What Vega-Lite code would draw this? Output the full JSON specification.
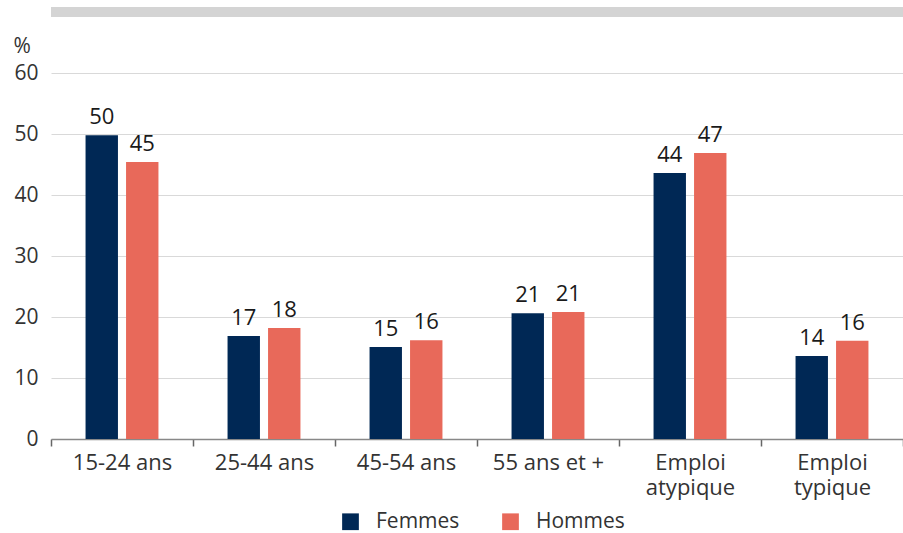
{
  "$schema": "https://vega.github.io/schema/vega-lite/v6.json",
  "width": 852,
  "height": 366,
  "autosize": {"type": "none"},
  "padding": {"left": 51, "top": 73, "right": 0, "bottom": 94},
  "background": "white",
  "config": {
    "font": "Open Sans",
    "view": {"stroke": null}
  },
  "datasets": {
    "barres": [
      {"groupe": "15-24 ans", "sexe": "Femmes", "valeur": 49.8},
      {"groupe": "15-24 ans", "sexe": "Hommes", "valeur": 45.4},
      {"groupe": "25-44 ans", "sexe": "Femmes", "valeur": 16.9},
      {"groupe": "25-44 ans", "sexe": "Hommes", "valeur": 18.2},
      {"groupe": "45-54 ans", "sexe": "Femmes", "valeur": 15.1},
      {"groupe": "45-54 ans", "sexe": "Hommes", "valeur": 16.2},
      {"groupe": "55 ans et +", "sexe": "Femmes", "valeur": 20.6},
      {"groupe": "55 ans et +", "sexe": "Hommes", "valeur": 20.8},
      {"groupe": "Emploi atypique", "sexe": "Femmes", "valeur": 43.6},
      {"groupe": "Emploi atypique", "sexe": "Hommes", "valeur": 46.9},
      {"groupe": "Emploi typique", "sexe": "Femmes", "valeur": 13.6},
      {"groupe": "Emploi typique", "sexe": "Hommes", "valeur": 16.1}
    ],
    "bandeau": [{"niveau": 70}]
  },
  "layer": [
    {
      "data": {"name": "barres"},
      "encoding": {
        "x": {
          "field": "groupe",
          "type": "nominal",
          "sort": null,
          "scale": {"paddingInner": 0, "paddingOuter": 0},
          "axis": {
            "title": null,
            "labelAngle": 0,
            "labelFontSize": 22,
            "labelColor": "#333333",
            "labelPadding": 6,
            "labelLineHeight": 25,
            "labelExpr": "indexof(datum.label, 'Emploi') == 0 ? split(datum.label, ' ') : datum.label",
            "ticks": true,
            "tickBand": "extent",
            "tickSize": 7,
            "tickColor": "#666666",
            "tickWidth": 1.5,
            "domainColor": "#888888",
            "domainWidth": 1.5,
            "grid": false
          }
        },
        "xOffset": {"field": "sexe", "type": "nominal", "scale": {"paddingInner": 0.2, "paddingOuter": 0.853}},
        "y": {
          "field": "valeur",
          "type": "quantitative",
          "scale": {"domain": [0, 60]},
          "axis": {
            "title": "%",
            "titleAngle": 0,
            "titleAlign": "left",
            "titleBaseline": "alphabetic",
            "titleX": -38,
            "titleY": -21,
            "titleFontSize": 21,
            "titleFontWeight": "normal",
            "titleColor": "#333333",
            "values": [0, 10, 20, 30, 40, 50, 60],
            "labelFontSize": 21,
            "labelColor": "#333333",
            "labelPadding": 13,
            "ticks": false,
            "domain": false,
            "grid": true,
            "gridColor": "#d9d9d9",
            "gridWidth": 1
          }
        }
      },
      "layer": [
        {
          "mark": {"type": "bar"},
          "encoding": {
            "color": {
              "field": "sexe",
              "type": "nominal",
              "scale": {"domain": ["Femmes", "Hommes"], "range": ["#002855", "#e8695a"]},
              "legend": {
                "title": null,
                "orient": "none",
                "legendX": 289,
                "legendY": 438,
                "padding": 0,
                "direction": "horizontal",
                "symbolType": "square",
                "symbolSize": 280,
                "symbolStrokeWidth": 0,
                "labelFontSize": 21,
                "labelColor": "#333333",
                "columnPadding": 40,
                "labelOffset": 15
              }
            }
          }
        },
        {
          "mark": {"type": "text", "baseline": "alphabetic", "dy": -11, "fontSize": 22, "color": "#1a1a1a"},
          "encoding": {
            "text": {"field": "valeur", "type": "quantitative", "format": ".0f"}
          }
        }
      ]
    },
    {
      "data": {"name": "bandeau"},
      "mark": {"type": "rule", "color": "#d4d4d4", "strokeWidth": 10, "clip": false},
      "encoding": {
        "y": {
          "field": "niveau",
          "type": "quantitative",
          "scale": {"domain": [0, 60]},
          "axis": {
            "title": "%",
            "titleAngle": 0,
            "titleAlign": "left",
            "titleBaseline": "alphabetic",
            "titleX": -38,
            "titleY": -21,
            "titleFontSize": 21,
            "titleFontWeight": "normal",
            "titleColor": "#333333",
            "values": [0, 10, 20, 30, 40, 50, 60],
            "labelFontSize": 21,
            "labelColor": "#333333",
            "labelPadding": 13,
            "ticks": false,
            "domain": false,
            "grid": true,
            "gridColor": "#d9d9d9",
            "gridWidth": 1
          }
        }
      }
    }
  ]
}
